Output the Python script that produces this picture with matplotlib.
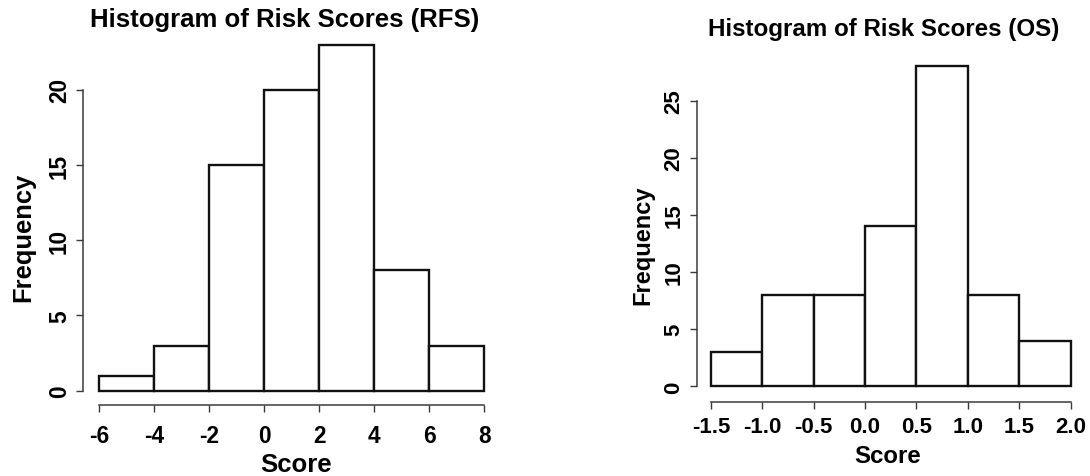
import matplotlib
matplotlib.use("Agg")
import matplotlib.pyplot as plt

plt.rcParams['font.family'] = ['Liberation Sans', 'DejaVu Sans']
plt.rcParams['font.weight'] = 'bold'

# ---- data ----
rfs_edges = [-6, -4, -2, 0, 2, 4, 6, 8]
rfs_counts = [1, 3, 15, 20, 23, 8, 3]
rfs_xticklabels = ["-6", "-4", "-2", "0", "2", "4", "6", "8"]
rfs_yticks = [0, 5, 10, 15, 20]

os_edges = [-1.5, -1.0, -0.5, 0.0, 0.5, 1.0, 1.5, 2.0]
os_counts = [3, 8, 8, 14, 28, 8, 4]
os_xticklabels = ["-1.5", "-1.0", "-0.5", "0.0", "0.5", "1.0", "1.5", "2.0"]
os_yticks = [0, 5, 10, 15, 20, 25]

titles = ["Histogram of Risk Scores (RFS)", "Histogram of Risk Scores (OS)"]

W, H = 1090, 477
fig = plt.figure(figsize=(W / 100, H / 100), dpi=100)


def px_axes(x0, x1, ytop, ybot):
    return fig.add_axes([x0 / W, (H - ybot) / H, (x1 - x0) / W, (ybot - ytop) / H])


axL = px_axes(83.3, 499.7, 31.7, 405.7)
axR = px_axes(696.7, 1085, 54.4, 402.7)

axis_col = "#3a3a3a"


def style(ax, edges, counts, xlabels, yticks, xlim, ylim, tfs, xpad):
    widths = [edges[i + 1] - edges[i] for i in range(len(counts))]
    ax.bar(edges[:-1], counts, width=widths, align='edge', color='white',
           edgecolor='#111111', linewidth=1.7)
    ax.set_xlim(*xlim)
    ax.set_ylim(*ylim)
    for s in ['top', 'right']:
        ax.spines[s].set_visible(False)
    ax.spines['left'].set_bounds(yticks[0], yticks[-1])
    ax.spines['bottom'].set_bounds(edges[0], edges[-1])
    for s in ['left', 'bottom']:
        ax.spines[s].set_color(axis_col)
        ax.spines[s].set_linewidth(1.1)
    ax.set_xticks(edges)
    ax.set_xticklabels(xlabels, fontsize=tfs, fontweight='bold')
    ax.set_yticks(yticks)
    ax.set_yticklabels([str(v) for v in yticks], rotation=90, va='center',
                       fontsize=tfs, fontweight='bold')
    ax.tick_params(axis='both', length=4.8, width=1.0, color=axis_col)
    ax.tick_params(axis='x', pad=xpad)
    ax.tick_params(axis='y', pad=4)
    ax.set_facecolor('none')


style(axL, rfs_edges, rfs_counts, rfs_xticklabels, rfs_yticks,
      (-6.58, 8.56), (-0.93, 23.92), 16.3, 9.3)
style(axR, os_edges, os_counts, os_xticklabels, os_yticks,
      (-1.639, 2.14), (-1.33, 29.12), 16, 5.5)

# titles and axis labels (pixel placed)
fig.text(285 / W, 1 - 20.5 / H, titles[0], ha='center', va='center',
         fontsize=18.5, fontweight='bold')
fig.text(884 / W, 1 - 29.5 / H, titles[1], ha='center', va='center',
         fontsize=17.4, fontweight='bold')
fig.text(296 / W, 1 - 465 / H, "Score", ha='center', va='center',
         fontsize=18.5, fontweight='bold')
fig.text(888 / W, 1 - 457 / H, "Score", ha='center', va='center',
         fontsize=17.3, fontweight='bold')
fig.text(23.3 / W, 1 - 237.5 / H, "Frequency", ha='center', va='center',
         rotation=90, fontsize=18.4, fontweight='bold')
fig.text(642.5 / W, 1 - 245 / H, "Frequency", ha='center', va='center',
         rotation=90, fontsize=17, fontweight='bold')

fig.savefig("out.png", dpi=100, facecolor='white')
